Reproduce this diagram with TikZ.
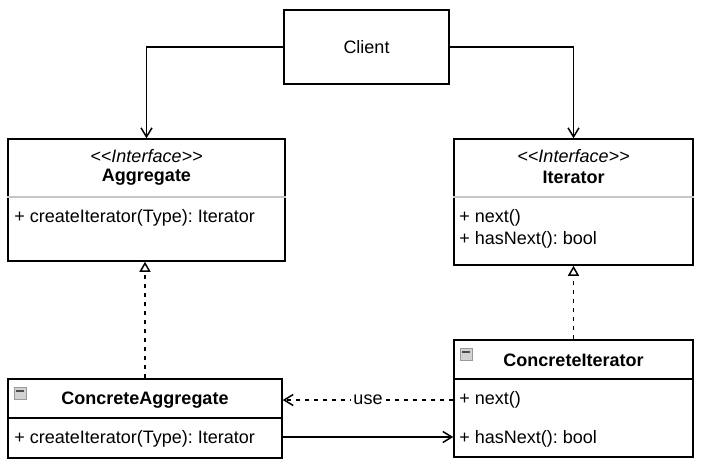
\documentclass[tikz,border=0pt]{standalone}
\usepackage{fontspec}
\setmainfont{Liberation Sans}
\usetikzlibrary{arrows.meta,positioning}
\newcommand\diafont{\fontsize{9}{11}\selectfont\frenchspacing}
\tikzset{%
  classbox/.style={rectangle,draw,line width=0.75pt,inner sep=0pt},
  stereo/.style={inner sep=0pt,font=\diafont\itshape},
  classname/.style={inner sep=0pt,font=\diafont\bfseries},
  member/.style={inner sep=0pt,anchor=west},
  sepline/.style={line width=0.75pt,draw=gray!45},
  darksep/.style={line width=0.75pt,draw=black},
  minusicon/.style={% small collapse box
    rectangle,draw=gray!80,fill=gray!35,line width=0.5pt,
    minimum width=6pt,minimum height=6pt,inner sep=0pt,
    path picture={\draw[line width=0.9pt,black!70]
      ([xshift=1pt,yshift=1pt]path picture bounding box.west) --
      ([xshift=-1pt,yshift=1pt]path picture bounding box.east);}
  },
  assoc/.style={line width=0.75pt,-{Straight Barb[length=4.5pt,width=5.5pt]}},
  realize/.style={line width=0.75pt,dash pattern=on 2.25pt off 2.25pt,
    -{Triangle[open,length=5pt,width=5.5pt,fill=white]}},
  usedep/.style={line width=0.75pt,dash pattern=on 2.25pt off 2.25pt,
    -{Straight Barb[length=4.5pt,width=5.5pt]}},
  uselabel/.style={fill=white,inner sep=1pt}
}

\begin{document}
\begin{tikzpicture}[x=0.5pt,y=-0.5pt,font=\diafont]
    \useasboundingbox (0,0) rectangle (704,466);

    \node [classbox,minimum width=82.5pt,minimum height=37pt] (client) at (366.5,47) {Client};

    % interfaces
    \node [classbox,minimum width=138.5pt,minimum height=61pt] (aggr) at (146.5,200) {};
    \node [stereo] (aggrst) at (146.5,156) {{<}{<}Interface{>}{>}};
    \node [classname] (aggrname) at (146.5,177) {Aggregate};
    \draw [sepline] (aggr.west |- 0,197) -- (aggr.east |- 0,197);
    \node [member] (aggrcreate) at (14,218) {+ createIterator(Type): Iterator};

    \node [classbox,minimum width=119.5pt,minimum height=63pt] (iter) at (573.5,202) {};
    \node [stereo] (iterst) at (573.5,156) {{<}{<}Interface{>}{>}};
    \node [classname] (itername) at (573.5,177) {Iterator};
    \draw [sepline] (iter.west |- 0,197) -- (iter.east |- 0,197);
    \node [member] (iternext) at (459,218) {+ next()};
    \node [member] (iterhas) at (459,240) {+ hasNext(): bool};

    % concrete classes
    \node [classbox,minimum width=137pt,minimum height=39.5pt] (caggr) at (145,418.5) {};
    \node [minusicon] (caggricon) at (20,393) {};
    \node [classname] (caggrname) at (145,400) {ConcreteAggregate};
    \draw [darksep] (caggr.west |- 0,418) -- (caggr.east |- 0,418);
    \node [member] (caggrcreate) at (14,439) {+ createIterator(Type): Iterator};

    \node [classbox,minimum width=119.5pt,minimum height=58.5pt] (citer) at (573.5,398.5) {};
    \node [minusicon] (citericon) at (466,354) {};
    \node [classname] (citername) at (573.5,360) {ConcreteIterator};
    \draw [darksep] (citer.west |- 0,379) -- (citer.east |- 0,379);
    \node [member] (citernext) at (459,400) {+ next()};
    \node [member] (citerhas) at (459,439) {+ hasNext(): bool};

    % connectors
    \draw [assoc] (client.west) -| (aggr.north);
    \draw [assoc] (client.east) -| (iter.north);
    \draw [realize] (caggr.north) -- (caggr.north |- aggr.south);
    \draw [realize] (citer.north) -- (iter.south);
    \draw [usedep] (citer.west |- citernext) -- node [uselabel] (uselbl) {use} (caggr.east |- citernext);
    \draw [assoc] (caggr.east |- 0,437) -- (citer.west |- 0,437);
\end{tikzpicture}
\end{document}
